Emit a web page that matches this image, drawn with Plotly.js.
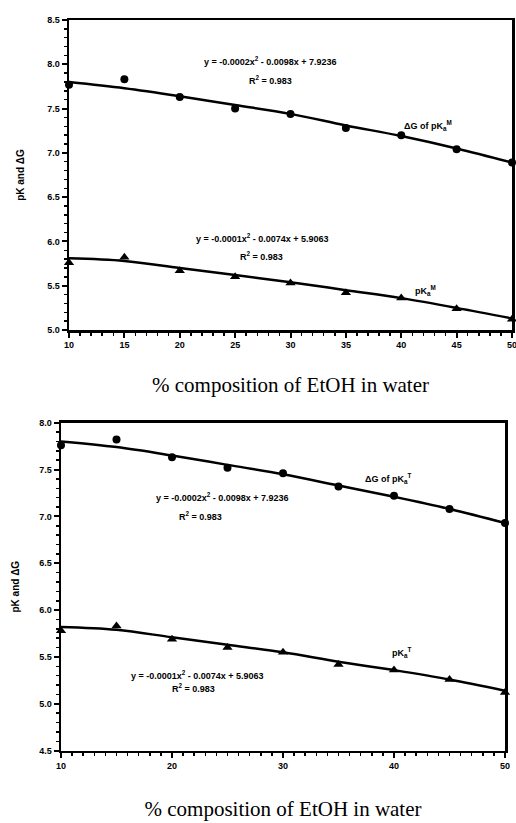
<!DOCTYPE html>
<html>
<head>
<meta charset="utf-8">
<script src="https://cdn.plot.ly/plotly-3.0.1.min.js"></script>
<style>html,body{margin:0;padding:0;background:#fff;}#chart{width:516px;height:823px;}</style>
</head>
<body>
<div id="chart"></div>
<script>
// ---- data ----
const xVals = [10, 15, 20, 25, 30, 35, 40, 45, 50];

// Top panel (M)
const dG_M_points   = [7.77, 7.83, 7.63, 7.50, 7.44, 7.28, 7.20, 7.04, 6.89];
const dG_M_trend    = [7.80, 7.73, 7.64, 7.54, 7.44, 7.31, 7.19, 7.05, 6.89];
const pK_M_points   = [5.76, 5.82, 5.67, 5.60, 5.53, 5.42, 5.36, 5.24, 5.12];
const pK_M_trend    = [5.81, 5.78, 5.70, 5.62, 5.54, 5.45, 5.36, 5.25, 5.13];

// Bottom panel (T)
const dG_T_points   = [7.76, 7.82, 7.63, 7.52, 7.46, 7.32, 7.22, 7.08, 6.93];
const dG_T_trend    = [7.80, 7.74, 7.65, 7.55, 7.45, 7.33, 7.21, 7.08, 6.93];
const pK_T_points   = [5.78, 5.83, 5.69, 5.60, 5.55, 5.42, 5.36, 5.26, 5.12];
const pK_T_trend    = [5.82, 5.79, 5.71, 5.63, 5.55, 5.45, 5.36, 5.26, 5.14];

const topXTicks = [10, 15, 20, 25, 30, 35, 40, 45, 50];
const botXTicks = [10, 20, 30, 40, 50];

const eqDG = "y = -0.0002x<sup>2</sup> - 0.0098x + 7.9236";
const eqPK = "y = -0.0001x<sup>2</sup> - 0.0074x + 5.9063";
const r2Text = "R<sup>2</sup> = 0.983";
const xTitle = "% composition of EtOH in water";
const yTitle = "pK and ΔG";

// ---- styling ----
const W = 516, H = 823;
const px = v => v / W;
const py = v => 1 - v / H;
const boldFont = {family: "Liberation Sans, Arial, sans-serif", size: 9, color: "#000", weight: "bold"};
const lineStyle = {color: "#000", width: 2.5, shape: "spline"};

function ptTrace(x, y, xa, ya, sym, size) {
  return {x: x, y: y, xaxis: xa, yaxis: ya, mode: "markers", type: "scatter", cliponaxis: false,
          marker: {symbol: sym, size: size, color: "#000"}, showlegend: false, hoverinfo: "skip"};
}
function lnTrace(x, y, xa, ya) {
  return {x: x, y: y, xaxis: xa, yaxis: ya, mode: "lines", type: "scatter", cliponaxis: false,
          line: lineStyle, showlegend: false, hoverinfo: "skip"};
}

const traces = [
  lnTrace(xVals, dG_M_trend, "x", "y"),
  ptTrace(xVals, dG_M_points, "x", "y", "circle", 8),
  lnTrace(xVals, pK_M_trend, "x", "y"),
  ptTrace(xVals, pK_M_points, "x", "y", "triangle-up", 9),
  lnTrace(xVals, dG_T_trend, "x2", "y2"),
  ptTrace(xVals, dG_T_points, "x2", "y2", "circle", 8),
  lnTrace(xVals, pK_T_trend, "x2", "y2"),
  ptTrace(xVals, pK_T_points, "x2", "y2", "triangle-up", 9)
];

function xAxis(domain, ticks, anchor, standoff) {
  return {
    domain: domain, anchor: anchor, range: [10, 50], tickvals: ticks,
    ticks: "outside", ticklen: 5, tickwidth: 2, tickcolor: "#000",
    minor: {dtick: 1, ticks: "outside", ticklen: 3, tickwidth: 1.5, tickcolor: "#000"},
    showline: true, linecolor: "#000", linewidth: 2.5, mirror: true,
    showgrid: false, zeroline: false, tickfont: boldFont, ticklabeloverflow: "allow",
    title: {text: xTitle, font: {family: "Liberation Serif, Times New Roman, serif", size: 21, color: "#000"}, standoff: standoff},
    automargin: false
  };
}
function yAxis(domain, range, dtick, anchor, standoff) {
  return {
    domain: domain, anchor: anchor, range: range, dtick: dtick, tick0: 0,
    tickformat: ".1f",
    ticks: "outside", ticklen: 5, tickwidth: 2, tickcolor: "#000",
    minor: {dtick: 0.1, ticks: "outside", ticklen: 3, tickwidth: 1.5, tickcolor: "#000"},
    showline: true, linecolor: "#000", linewidth: 2.5, mirror: true,
    showgrid: false, zeroline: false, tickfont: boldFont, ticklabeloverflow: "allow",
    title: {text: yTitle, font: {family: "Liberation Sans, Arial, sans-serif", size: 10, color: "#000", weight: "bold"}, standoff: standoff},
    automargin: false
  };
}

const annFont = {family: "Liberation Sans, Arial, sans-serif", size: 9, color: "#000", weight: "bold"};
function ann(text, x, y) {
  return {text: text, xref: "paper", yref: "paper", x: px(x), y: py(y),
          xanchor: "center", yanchor: "middle", showarrow: false, font: annFont};
}

const layout = {
  width: W, height: H,
  margin: {l: 0, r: 0, t: 0, b: 0},
  paper_bgcolor: "#fff", plot_bgcolor: "#fff",
  xaxis: xAxis([px(69), px(512)], topXTicks, "y", 28),
  yaxis: yAxis([py(330), py(20)], [5.0, 8.5], 0.5, "x", 21),
  xaxis2: xAxis([px(61), px(505)], botXTicks, "y2", 32),
  yaxis2: yAxis([py(750.7), py(422.7)], [4.5, 8.0], 0.5, "x2", 18),
  annotations: [
    ann(eqDG, 270, 61),
    ann(r2Text, 270, 80),
    ann("ΔG of pK<sub>a</sub><sup>M</sup>", 428, 125),
    ann(eqPK, 262, 238),
    ann(r2Text, 261, 256),
    ann("pK<sub>a</sub><sup>M</sup>", 425, 290),
    ann(eqDG, 222, 497),
    ann(r2Text, 200, 516),
    ann("ΔG of pK<sub>a</sub><sup>T</sup>", 388, 478),
    ann(eqPK, 197, 675),
    ann(r2Text, 193, 688),
    ann("pK<sub>a</sub><sup>T</sup>", 402, 652)
  ]
};

Plotly.newPlot("chart", traces, layout, {staticPlot: true, displayModeBar: false});
</script>
</body>
</html>
